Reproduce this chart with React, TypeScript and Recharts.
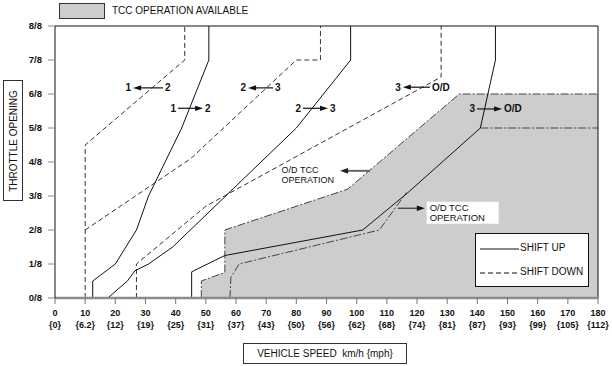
import { ComposedChart, Line, Area, XAxis, YAxis, ReferenceLine, ReferenceDot } from "recharts";

const FONT = '"Liberation Sans", Arial, Helvetica, sans-serif';

// axis ticks
const SPEED_TICKS = [0, 10, 20, 30, 40, 50, 60, 70, 80, 90, 100, 110, 120, 130, 140, 150, 160, 170, 180];
const MPH_LABELS = ["0", "6.2", "12", "19", "25", "31", "37", "43", "50", "56", "62", "68", "74", "81", "87", "93", "99", "105", "112"];
const THROTTLE_TICKS = [0, 1, 2, 3, 4, 5, 6, 7, 8];

// shift lines: x = km/h, y = throttle eighths
const up12 = [
  { x: 12.5, y: 0 }, { x: 12.5, y: 0.5 }, { x: 20, y: 1 }, { x: 27, y: 2 },
  { x: 31, y: 3 }, { x: 42, y: 5 }, { x: 51, y: 7 }, { x: 51, y: 8 },
];
const down12 = [{ x: 10, y: 0 }, { x: 10, y: 4.5 }, { x: 43, y: 7 }, { x: 43, y: 8 }];
const up23 = [
  { x: 17.5, y: 0 }, { x: 24, y: 0.5 }, { x: 26.5, y: 0.8 }, { x: 31, y: 1 },
  { x: 39, y: 1.5 }, { x: 80, y: 5 }, { x: 98, y: 7 }, { x: 98, y: 8 },
];
const down23 = [{ x: 10, y: 2 }, { x: 45, y: 4.1 }, { x: 80, y: 7 }, { x: 88, y: 7 }, { x: 88, y: 8 }];
const up3od = [
  { x: 45.3, y: 0 }, { x: 45.3, y: 0.77 }, { x: 56.3, y: 1.25 }, { x: 102, y: 2 },
  { x: 117, y: 3.1 }, { x: 141, y: 5 }, { x: 146, y: 7 }, { x: 146, y: 8 },
];
const down3od = [{ x: 27, y: 0 }, { x: 27, y: 1 }, { x: 50, y: 2.7 }, { x: 128, y: 6.5 }, { x: 128, y: 8 }];

// TCC zone
const tccZone = [
  { x: 48.5, y: 0 }, { x: 48.5, y: 0.5 }, { x: 56.3, y: 0.75 }, { x: 56.3, y: 2 },
  { x: 97, y: 3.2 }, { x: 134, y: 6 }, { x: 180, y: 6 },
];
const tccLower = [{ x: 58, y: 0 }, { x: 58.3, y: 0.6 }, { x: 61, y: 1 }, { x: 107.5, y: 2 }, { x: 116.5, y: 3.1 }];
const tccOd = [{ x: 141, y: 5 }, { x: 180, y: 5 }];

// shift arrow tags
const shiftTags = [
  { left: "1", right: "2", tail: 35.8, head: 25.9, y: 6.18 },
  { left: "1", right: "2", tail: 40.8, head: 49.1, y: 5.58 },
  { left: "2", right: "3", tail: 72.3, head: 64.0, y: 6.18 },
  { left: "2", right: "3", tail: 82.2, head: 90.5, y: 5.58 },
  { left: "3", right: "O/D", tail: 124.3, head: 115.3, y: 6.2 },
  { left: "3", right: "O/D", tail: 139.9, head: 148.2, y: 5.56 },
];

const DASH = "5 3";
const DASH_DOT = "8 2 2 2";

function arrowHead(x: number, y: number, dir: number, len = 8, half = 2.6, fill = "#111") {
  return <polygon points={`${x},${y} ${x - dir * len},${y - half} ${x - dir * len},${y + half}`} fill={fill} />;
}

function SpeedTick(props: any) {
  const { x, y, payload } = props;
  const i = SPEED_TICKS.indexOf(payload.value);
  return (
    <text x={x} y={y} textAnchor="middle" fontFamily={FONT} fontSize={9} fontWeight="bold" fill="#111">
      <tspan x={x} dy={9.5}>{payload.value}</tspan>
      <tspan x={x} dy={12.5}>{`{${MPH_LABELS[i]}}`}</tspan>
    </text>
  );
}

function tagShape(tag: { left: string; right: string; tail: number; head: number }) {
  return (p: any) => {
    const { x1, y1, x2 } = p;
    const dir = x2 > x1 ? 1 : -1;
    const lo = Math.min(x1, x2);
    const hi = Math.max(x1, x2);
    return (
      <g>
        <line x1={x1} y1={y1} x2={x2 - dir * 6} y2={y1} stroke="#111" strokeWidth={1.2} />
        {arrowHead(x2, y1, dir)}
        <text x={lo - 2} y={y1 + 3.5} textAnchor="end" fontFamily={FONT} fontSize={10} fontWeight="bold" fill="#111">{tag.left}</text>
        <text x={hi + 2} y={y1 + 3.5} textAnchor="start" fontFamily={FONT} fontSize={10} fontWeight="bold" fill="#111">{tag.right}</text>
      </g>
    );
  };
}

function tccTextUpper(p: any) {
  const { cx, cy } = p;
  return (
    <g fontFamily={FONT} fontSize={9} fill="#111">
      <text x={cx} y={cy - 2}>O/D TCC</text>
      <text x={cx} y={cy + 8}>OPERATION</text>
    </g>
  );
}

function tccTextLower(p: any) {
  const { cx, cy } = p;
  return (
    <g fontFamily={FONT} fontSize={9.5} fill="#111">
      <rect x={cx} y={cy} width={72} height={22} fill="#fff" />
      <text x={cx + 3} y={cy + 9.5}>O/D TCC</text>
      <text x={cx + 3} y={cy + 19}>OPERATION</text>
    </g>
  );
}

export default function App() {
  return (
    <div style={{ position: "absolute", left: 0, top: 0, width: 612, height: 366, background: "#fff", fontFamily: FONT }}>
      <ComposedChart width={612} height={366} margin={{ top: 26, right: 14, bottom: 0, left: 0 }}>
        <XAxis
          type="number" dataKey="x" domain={[0, 180]} ticks={SPEED_TICKS} interval={0}
          height={68} tickSize={6} tickMargin={2} tick={SpeedTick}
          tickLine={{ stroke: "#777" }} axisLine={{ stroke: "#8c8c8c", strokeWidth: 2.5 }}
        />
        <YAxis
          type="number" dataKey="y" domain={[0, 8]} ticks={THROTTLE_TICKS} interval={0}
          width={55} tickSize={7} tickMargin={6} tickFormatter={(v) => `${v}/8`}
          tick={{ fontSize: 9.5, fontWeight: "bold", fill: "#111", fontFamily: FONT }}
          tickLine={{ stroke: "#888" }} axisLine={{ stroke: "#111" }}
        />

        <Area data={tccZone} dataKey="y" type="linear" fill="#cdcdcd" fillOpacity={1}
          stroke="#444" strokeWidth={1} strokeDasharray={DASH_DOT} baseValue={0}
          dot={false} activeDot={false} isAnimationActive={false} />
        <Line data={tccLower} dataKey="y" type="linear" stroke="#444" strokeWidth={1} strokeDasharray={DASH_DOT} dot={false} activeDot={false} isAnimationActive={false} />
        <Line data={tccOd} dataKey="y" type="linear" stroke="#444" strokeWidth={1} strokeDasharray={DASH_DOT} dot={false} activeDot={false} isAnimationActive={false} />

        <Line data={down12} dataKey="y" type="linear" stroke="#333" strokeWidth={1} strokeDasharray={DASH} dot={false} activeDot={false} isAnimationActive={false} />
        <Line data={down23} dataKey="y" type="linear" stroke="#333" strokeWidth={1} strokeDasharray={DASH} dot={false} activeDot={false} isAnimationActive={false} />
        <Line data={down3od} dataKey="y" type="linear" stroke="#333" strokeWidth={1} strokeDasharray={DASH} dot={false} activeDot={false} isAnimationActive={false} />
        <Line data={up12} dataKey="y" type="linear" stroke="#111" strokeWidth={1} dot={false} activeDot={false} isAnimationActive={false} />
        <Line data={up23} dataKey="y" type="linear" stroke="#111" strokeWidth={1} dot={false} activeDot={false} isAnimationActive={false} />
        <Line data={up3od} dataKey="y" type="linear" stroke="#111" strokeWidth={1} dot={false} activeDot={false} isAnimationActive={false} />

        <ReferenceLine y={8} stroke="#111" strokeWidth={1} />
        <ReferenceLine x={180} stroke="#111" strokeWidth={1} />

        {shiftTags.map((t, i) => (
          <ReferenceLine key={i} segment={[{ x: t.tail, y: t.y }, { x: t.head, y: t.y }]} ifOverflow="visible" shape={tagShape(t)} />
        ))}

        <ReferenceLine segment={[{ x: 104.4, y: 3.74 }, { x: 94.5, y: 3.74 }]} ifOverflow="visible"
          shape={(p: any) => (
            <g>
              <line x1={p.x1} y1={p.y1} x2={p.x2 + 6} y2={p.y1} stroke="#666" strokeWidth={2} />
              {arrowHead(p.x2, p.y1, -1, 8, 2.8, "#222")}
            </g>
          )} />
        <ReferenceDot x={75.1} y={3.63} r={0} ifOverflow="visible" shape={tccTextUpper} />

        <ReferenceLine segment={[{ x: 113.7, y: 2.64 }, { x: 122.6, y: 2.64 }]} ifOverflow="visible"
          shape={(p: any) => (
            <g>
              <line x1={p.x1} y1={p.y1} x2={p.x2 - 6} y2={p.y1} stroke="#333" strokeWidth={1.2} />
              {arrowHead(p.x2, p.y1, 1, 8, 2.8, "#111")}
            </g>
          )} />
        <ReferenceDot x={123.2} y={2.83} r={0} ifOverflow="visible" shape={tccTextLower} />
      </ComposedChart>

      {/* TCC legend swatch */}
      <div style={{ position: "absolute", left: 59, top: 3, width: 44, height: 14, background: "#cdcdcd", border: "1px solid #333" }} />
      <div style={{ position: "absolute", left: 112, top: 4, fontSize: 10, lineHeight: "13px", color: "#111" }}>TCC OPERATION AVAILABLE</div>

      {/* y axis title */}
      <div style={{ position: "absolute", left: 3, top: 80, width: 18, height: 119, border: "1px solid #333", background: "#fff" }}>
        <div style={{ position: "absolute", left: 9, top: 60, transform: "translate(-50%, -50%) rotate(-90deg)", whiteSpace: "nowrap", fontSize: 10, color: "#111" }}>
          THROTTLE OPENING
        </div>
      </div>

      {/* x axis title */}
      <div style={{ position: "absolute", left: 243, top: 343, width: 162, height: 19, border: "1px solid #333", fontSize: 10, lineHeight: "19px", textAlign: "center", color: "#111", whiteSpace: "pre" }}>
        {"VEHICLE SPEED  km/h {mph}"}
      </div>

      {/* shift legend */}
      <div style={{ position: "absolute", left: 475, top: 233, width: 112, height: 52, border: "1px solid #111", background: "#fff", fontSize: 10, color: "#111" }}>
        <svg width={40} height={4} style={{ position: "absolute", left: 4, top: 13 }}>
          <line x1={0} y1={2} x2={39} y2={2} stroke="#111" strokeWidth={1} />
        </svg>
        <div style={{ position: "absolute", left: 44, top: 8 }}>SHIFT UP</div>
        <svg width={40} height={4} style={{ position: "absolute", left: 4, top: 37 }}>
          <line x1={0} y1={2} x2={39} y2={2} stroke="#111" strokeWidth={1} strokeDasharray={DASH} />
        </svg>
        <div style={{ position: "absolute", left: 44, top: 32 }}>SHIFT DOWN</div>
      </div>
    </div>
  );
}
